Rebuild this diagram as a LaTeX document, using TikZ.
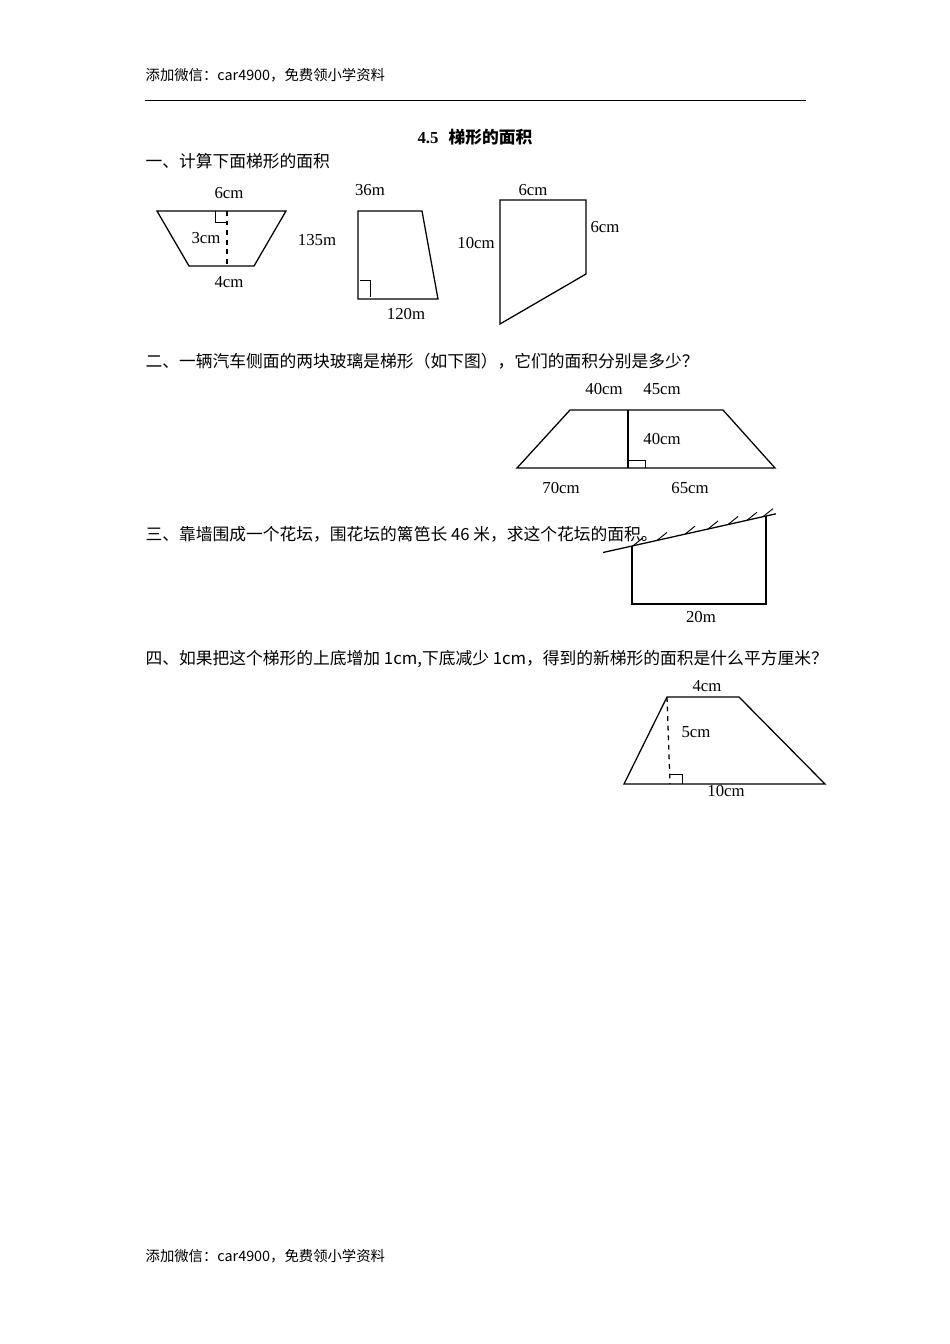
\documentclass[tikz,border=0pt]{standalone}
\usepackage{fontspec}
\setmainfont{Liberation Serif}
\newfontfamily\cjk{Noto Sans CJK SC}
\begin{document}
\begin{tikzpicture}[x=0.6266pt,y=-0.6266pt,line width=0.8pt,
  lab/.style={font=\fontsize{10.5}{12}\selectfont,inner sep=0pt},
  txt/.style={font=\cjk\fontsize{10.5}{12}\selectfont,inner sep=0pt,anchor=west}]
\useasboundingbox[fill=white] (0,0) rectangle (950,1344);
\node[txt,font=\cjk\fontsize{9}{11}\selectfont] (h) at (145,75) {添加微信：car4900，免费领小学资料};
\draw[line width=0.6pt] (145,100) -- (806,100);
\node[lab,font=\bfseries\fontsize{10.5}{12}\selectfont] (t) at (475,137) {4.5\hspace{0.6em}{\cjk\bfseries 梯形的面积}};
\node[txt] (q1) at (145,161) {一、计算下面梯形的面积};
% fig1
\draw (157,211) -- (286,211) -- (254,266) -- (189,266) -- cycle;
\draw[dashed] (227,211) -- (227,266);
\draw[line width=0.6pt] (215,211) -- (215,222) -- (227,222);
\node[lab] at (229,193) {6cm};
\node[lab] at (206,238) {3cm};
\node[lab] at (229,282) {4cm};
\node[lab] at (317,240) {135m};
% fig2
\draw (358,211) -- (422,211) -- (438,299) -- (358,299) -- cycle;
\draw[line width=0.6pt] (360,280) -- (370,280) -- (370,297);
\node[lab] at (370,190) {36m};
\node[lab] at (406,314) {120m};
% fig3
\draw (500,200) -- (586,200) -- (586,274) -- (500,324) -- cycle;
\node[lab] at (533,190) {6cm};
\node[lab] at (605,227) {6cm};
\node[lab] at (476,243) {10cm};
% Q2
\node[txt] (q2) at (145,361) {二、一辆汽车侧面的两块玻璃是梯形（如下图），它们的面积分别是多少？};
\draw (570,410) -- (723,410) -- (775,468) -- (517,468) -- cycle;
\draw (628,410) -- (628,468);
\draw[line width=0.6pt] (628,460) -- (645,460) -- (645,468);
\node[lab] at (604,389) {40cm};
\node[lab] at (662,389) {45cm};
\node[lab] at (662,439) {40cm};
\node[lab] at (561,488) {70cm};
\node[lab] at (690,488) {65cm};
% Q3
\node[txt] (q3) at (145,534) {三、靠墙围成一个花坛，围花坛的篱笆长 46 米，求这个花坛的面积。};
\draw (603,552.5) -- (776,513.8);
\foreach \x in {633,657,685,708,728,747,763}
  \draw[line width=0.6pt] (\x,{546-0.224*(\x-632)}) -- ++(10,-8);
\draw (632,546) -- (632,604) -- (766,604) -- (766,516);
\node[lab] at (701,617) {20m};
% Q4
\node[txt] (q4) at (145,659) {四、如果把这个梯形的上底增加 1cm,下底减少 1cm，得到的新梯形的面积是什么平方厘米？};
\draw (667,697) -- (739,697) -- (825,784) -- (624,784) -- cycle;
\draw[dashed] (667,697) -- (670,784);
\draw[line width=0.6pt] (670,774) -- (682,774) -- (682,784);
\node[lab] at (707,686) {4cm};
\node[lab] at (696,732) {5cm};
\node[lab] at (726,791) {10cm};
\node[txt,font=\cjk\fontsize{9}{11}\selectfont] (f) at (145,1256) {添加微信：car4900，免费领小学资料};
\end{tikzpicture}
\end{document}
